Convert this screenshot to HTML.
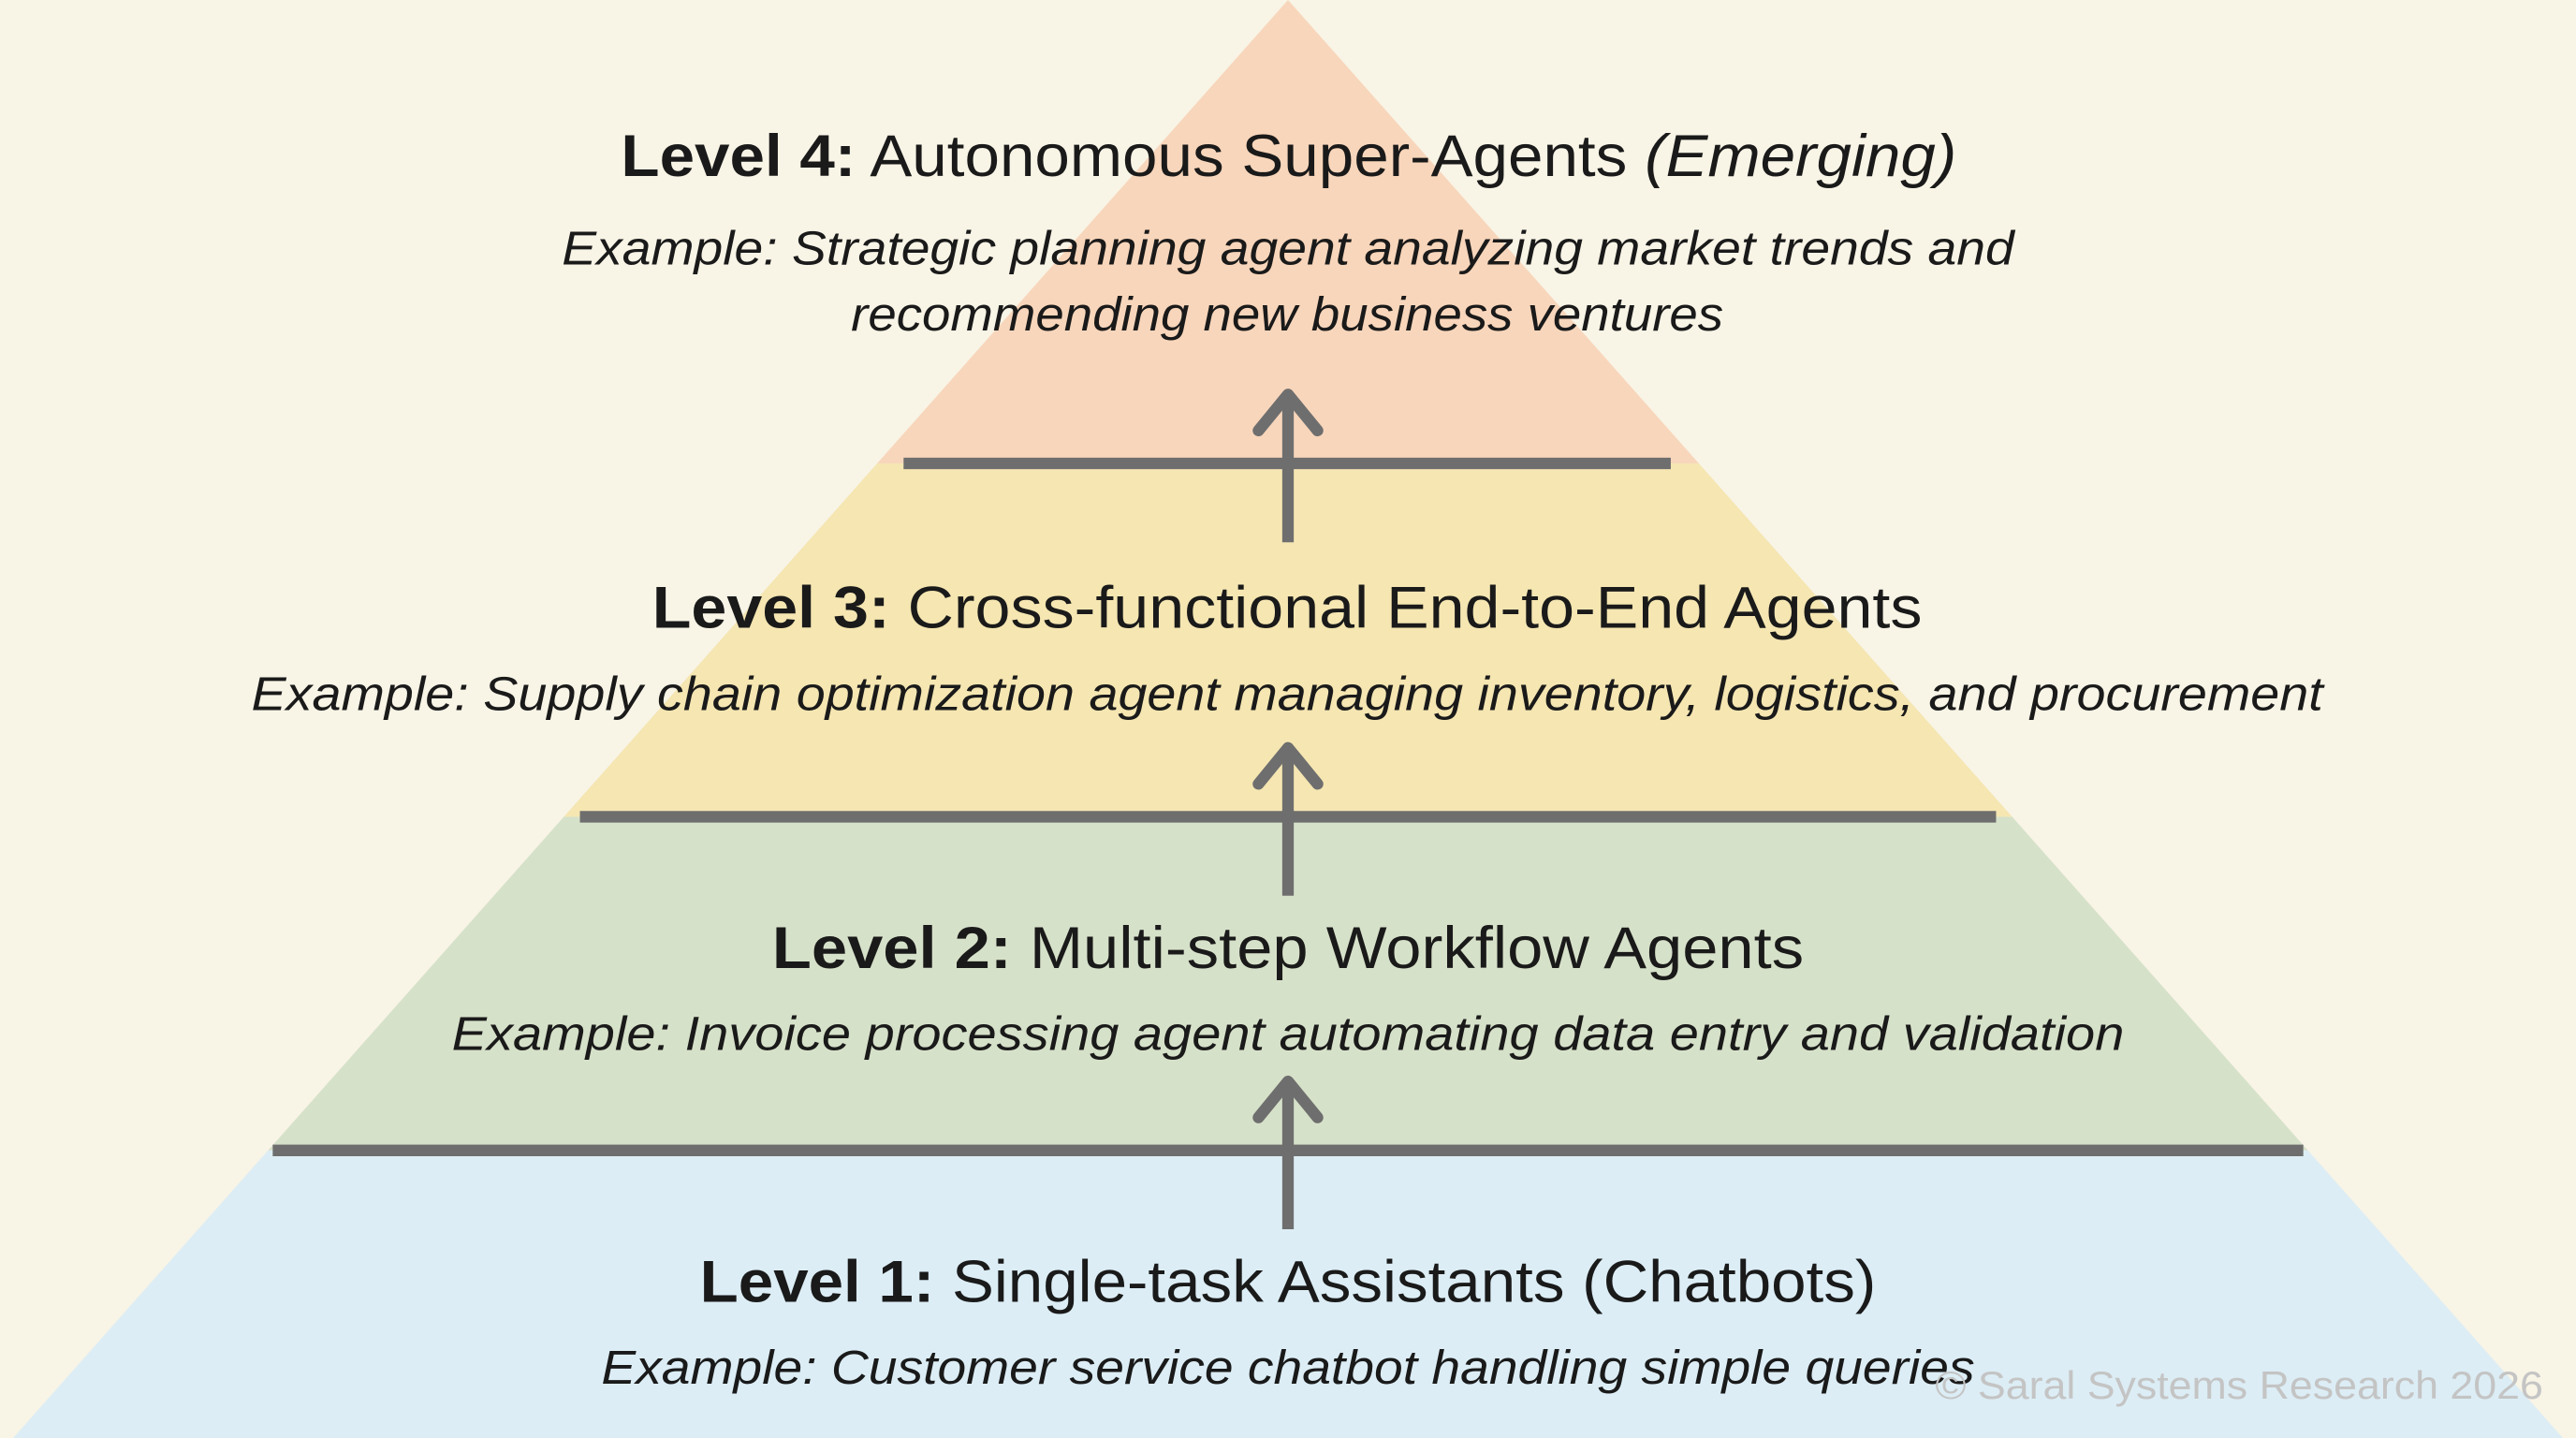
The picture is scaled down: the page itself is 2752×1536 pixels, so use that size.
<!DOCTYPE html>
<html><head><meta charset="utf-8"><style>
html,body{margin:0;padding:0;background:#f8f4e6;}
svg{display:block;}
text{font-family:"Liberation Sans",sans-serif;fill:#1a1a1a;}
.t{font-size:36px;}
.e{font-size:29px;font-style:italic;}
</style></head><body>
<svg width="2752" height="1536" viewBox="0 0 1568 875" preserveAspectRatio="none" xmlns="http://www.w3.org/2000/svg">
<rect width="1568" height="875" fill="#f8f4e6"/>
<defs><clipPath id="tri"><polygon points="784,0 8,875 1560,875"/></clipPath></defs>
<g clip-path="url(#tri)">
<rect x="0" y="0" width="1568" height="282" fill="#f8d6bb"/>
<rect x="0" y="282" width="1568" height="215" fill="#f5e6b2"/>
<rect x="0" y="497" width="1568" height="203" fill="#d6e1c9"/>
<rect x="0" y="700" width="1568" height="175" fill="#dcedf5"/>
</g>
<g stroke="#6e6e6e" stroke-width="7" fill="none">
<line x1="550" y1="282" x2="1017" y2="282"/>
<line x1="353" y1="497" x2="1215" y2="497"/>
<line x1="166" y1="700" x2="1402" y2="700"/>
<line x1="784" y1="330" x2="784" y2="240"/>
<polyline points="766,262 784,240 802,262" stroke-linecap="round" stroke-linejoin="round"/>
<line x1="784" y1="545" x2="784" y2="455"/>
<polyline points="766,477 784,455 802,477" stroke-linecap="round" stroke-linejoin="round"/>
<line x1="784" y1="748" x2="784" y2="658"/>
<polyline points="766,680 784,658 802,680" stroke-linecap="round" stroke-linejoin="round"/>
</g>
<text class="t" x="378" y="107" textLength="813" lengthAdjust="spacingAndGlyphs"><tspan font-weight="bold">Level 4:</tspan> Autonomous Super-Agents <tspan font-style="italic">(Emerging)</tspan></text>
<text class="e" x="342" y="161" textLength="884" lengthAdjust="spacingAndGlyphs">Example: Strategic planning agent analyzing market trends and</text>
<text class="e" x="518" y="201" textLength="531" lengthAdjust="spacingAndGlyphs">recommending new business ventures</text>
<text class="t" x="397" y="382" textLength="773" lengthAdjust="spacingAndGlyphs"><tspan font-weight="bold">Level 3:</tspan> Cross-functional End-to-End Agents</text>
<text class="e" x="153" y="432" textLength="1261" lengthAdjust="spacingAndGlyphs">Example: Supply chain optimization agent managing inventory, logistics, and procurement</text>
<text class="t" x="470" y="589" textLength="628" lengthAdjust="spacingAndGlyphs"><tspan font-weight="bold">Level 2:</tspan> Multi-step Workflow Agents</text>
<text class="e" x="275" y="639" textLength="1018" lengthAdjust="spacingAndGlyphs">Example: Invoice processing agent automating data entry and validation</text>
<text class="t" x="426" y="792" textLength="716" lengthAdjust="spacingAndGlyphs"><tspan font-weight="bold">Level 1:</tspan> Single-task Assistants (Chatbots)</text>
<text class="e" x="366" y="842" textLength="836" lengthAdjust="spacingAndGlyphs">Example: Customer service chatbot handling simple queries</text>
<text x="1178" y="851" font-size="24" style="fill:#c4c4c4" textLength="370" lengthAdjust="spacingAndGlyphs">© Saral Systems Research 2026</text>
</svg>
</body></html>
